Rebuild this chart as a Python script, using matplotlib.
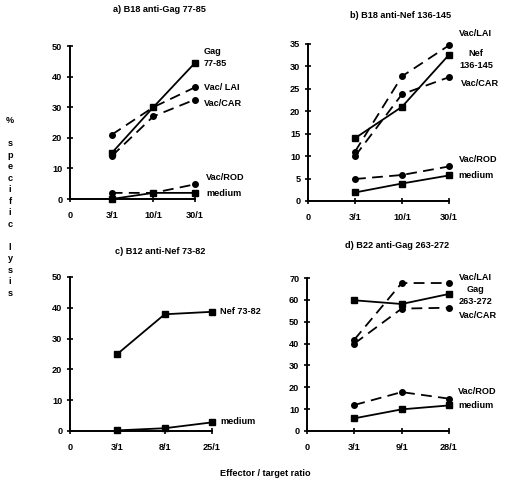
"""
Lisis específica (%) vs razón efector/blanco, cuatro paneles a)-d).
Genera out.png (505x492 px).
"""
import matplotlib
matplotlib.use("Agg")
import matplotlib.pyplot as plt

W_PX, H_PX = 505, 492
FONT = "Liberation Sans"
FS = 6.6

# a) B18 anti-Gag 77-85
ratios_a = ["0", "3/1", "10/1", "30/1"]
gag_77_85 = [15, 30, 44.5]
vac_lai_a = [21, 30, 36.5]
vac_car_a = [14, 27, 32.5]
vac_rod_a = [2, 2, 4.8]
medium_a = [0, 2, 2]

# b) B18 anti-Nef 136-145
ratios_b = ["0", "3/1", "10/1", "30/1"]
nef_136_145 = [14, 21, 32.6]
vac_lai_b = [11, 27.8, 34.7]
vac_car_b = [10, 23.8, 27.6]
vac_rod_b = [4.9, 5.8, 7.7]
medium_b = [1.9, 3.9, 5.7]

# c) B12 anti-Nef 73-82
ratios_c = ["0", "3/1", "8/1", "25/1"]
nef_73_82 = [25, 37.9, 38.7]
medium_c = [0.2, 0.9, 2.8]

# d) B22 anti-Gag 263-272
ratios_d = ["0", "3/1", "9/1", "28/1"]
gag_263_272 = [59.8, 58.1, 62.7]
vac_lai_d = [41.8, 67.7, 67.7]
vac_car_d = [40, 56, 56.4]
vac_rod_d = [11.9, 17.8, 14.8]
medium_d = [5.8, 9.9, 11.7]

plt.rcParams["font.family"] = [FONT, "DejaVu Sans"]
plt.rcParams["font.weight"] = "bold"


def px(x, y):
    return x / W_PX, 1 - y / H_PX


def box(left, right, bottom, top):
    return [left / W_PX, 1 - bottom / H_PX, (right - left) / W_PX, (bottom - top) / H_PX]


def panel(fig, rect, ratios, ymax, ystep, solid, dashed):
    ax = fig.add_axes(rect)
    xs = [1, 2, 3]
    for ys in dashed:
        ax.plot(xs, ys, color="black", lw=1.3, dashes=(6, 3.5), marker="o",
                ms=4, clip_on=False)
    for ys in solid:
        ax.plot(xs, ys, color="black", lw=1.3, marker="s", ms=4, clip_on=False)
    ax.set_xlim(0, 3)
    ax.set_ylim(0, ymax)
    ax.set_xticks(range(len(ratios)))
    ax.set_xticklabels(ratios)
    ax.set_yticks(range(0, ymax + 1, ystep))
    for s in ("top", "right"):
        ax.spines[s].set_visible(False)
    for s in ("left", "bottom"):
        ax.spines[s].set_linewidth(1.4)
    ax.tick_params(axis="both", direction="inout", length=5, width=1.2,
                   labelsize=FS)
    ax.tick_params(axis="x", pad=6)
    ax.tick_params(axis="y", pad=3)
    for lab in ax.get_xticklabels() + ax.get_yticklabels():
        lab.set_fontweight("bold")
    return ax


fig = plt.figure(figsize=(W_PX / 100, H_PX / 100), dpi=100)

panel(fig, box(70, 195, 199, 46), ratios_a, 50, 10,
      [gag_77_85, medium_a], [vac_lai_a, vac_car_a, vac_rod_a])
panel(fig, box(308, 449, 201, 44), ratios_b, 35, 5,
      [nef_136_145, medium_b], [vac_lai_b, vac_car_b, vac_rod_b])
panel(fig, box(70, 212, 431, 277), ratios_c, 50, 10,
      [nef_73_82, medium_c], [])
panel(fig, box(307, 449, 431, 278), ratios_d, 70, 10,
      [gag_263_272, medium_d], [vac_lai_d, vac_car_d, vac_rod_d])

# títulos de panel
titulos = [
    ("a) B18 anti-Gag 77-85", 159, 10),
    ("b) B18 anti-Nef 136-145", 401, 15),
    ("c) B12 anti-Nef 73-82", 160, 251),
    ("d) B22 anti-Gag 263-272", 397, 246),
]
for txt, x, y in titulos:
    fig.text(*px(x, y), txt, ha="center", va="center", fontsize=FS)

# etiquetas de series
etiquetas = [
    ("Gag", 204, 52), ("77-85", 204, 63), ("Vac/ LAI", 204, 88),
    ("Vac/CAR", 204, 103), ("Vac/ROD", 206, 178), ("medium", 206, 193),
    ("Vac/LAI", 459, 34), ("Nef", 468, 53), ("136-145", 459, 66),
    ("Vac/CAR", 461, 83), ("Vac/ROD", 459, 160), ("medium", 458, 176),
    ("Nef 73-82", 220, 312), ("medium", 220, 422),
    ("Vac/LAI", 459, 277), ("Gag", 467, 289), ("263-272", 459, 301),
    ("Vac/CAR", 459, 315), ("Vac/ROD", 458, 392), ("medium", 458, 406),
]
for txt, x, y in etiquetas:
    fig.text(*px(x, y), txt, ha="left", va="center", fontsize=FS)

# eje y común, letras apiladas
fig.text(*px(10, 116), "%\n\ns\np\ne\nc\ni\nf\ni\nc\n\nl\ny\ns\ni\ns",
         ha="center", va="top", fontsize=FS, linespacing=1.36)

fig.text(*px(265, 473), "Effector / target ratio", ha="center", va="center",
         fontsize=FS)

fig.savefig("out.png", dpi=100)
